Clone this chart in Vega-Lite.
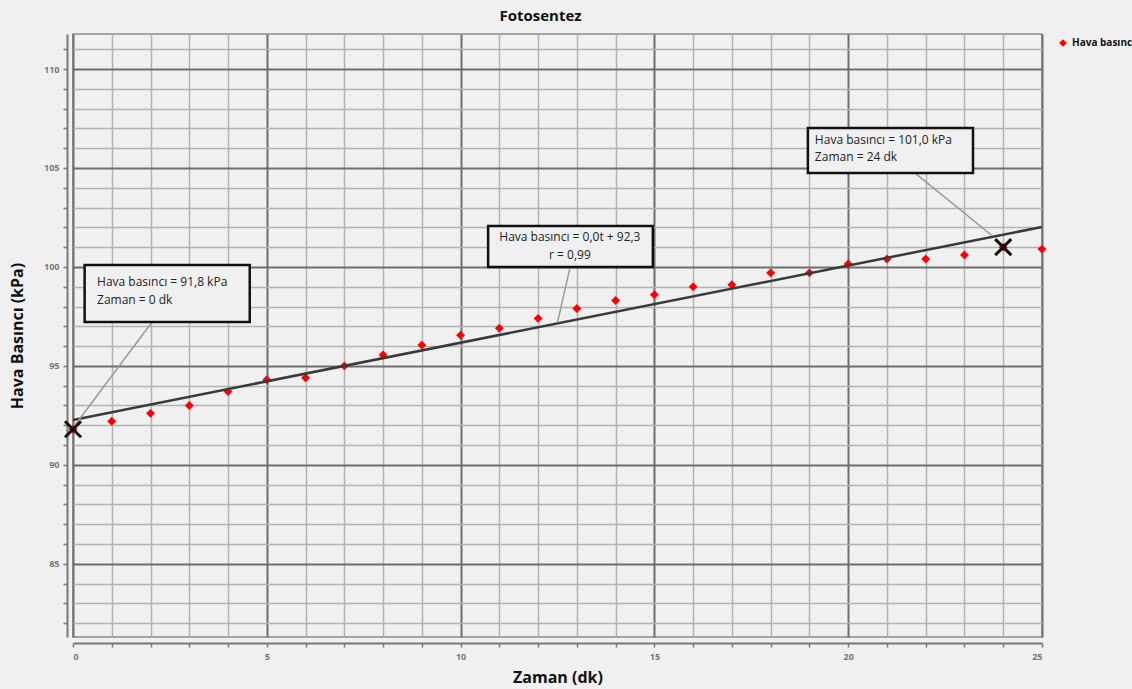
{
  "$schema": "https://vega.github.io/schema/vega-lite/v6.json",
  "autosize": {"type": "none"},
  "width": 969,
  "height": 603,
  "padding": {"left": 73, "top": 34, "right": 90, "bottom": 52},
  "background": "#f0f0f0",
  "title": {"text": "Fotosentez", "fontSize": 15, "fontWeight": "bold", "font": "Open Sans", "color": "#111", "offset": 10, "dx": -17},
  "config": {
    "view": {"fill": "#f0f0f0", "stroke": "#8a8a8a", "strokeWidth": 1.5},
    "font": "Open Sans"
  },
  "datasets": {
    "points": [
      {"t": 0, "p": 91.8, "s": "Hava basıncı"},
      {"t": 1, "p": 92.2, "s": "Hava basıncı"},
      {"t": 2, "p": 92.6, "s": "Hava basıncı"},
      {"t": 3, "p": 93.0, "s": "Hava basıncı"},
      {"t": 4, "p": 93.7, "s": "Hava basıncı"},
      {"t": 5, "p": 94.3, "s": "Hava basıncı"},
      {"t": 6, "p": 94.4, "s": "Hava basıncı"},
      {"t": 7, "p": 95.0, "s": "Hava basıncı"},
      {"t": 8, "p": 95.55, "s": "Hava basıncı"},
      {"t": 9, "p": 96.05, "s": "Hava basıncı"},
      {"t": 10, "p": 96.55, "s": "Hava basıncı"},
      {"t": 11, "p": 96.9, "s": "Hava basıncı"},
      {"t": 12, "p": 97.4, "s": "Hava basıncı"},
      {"t": 13, "p": 97.9, "s": "Hava basıncı"},
      {"t": 14, "p": 98.3, "s": "Hava basıncı"},
      {"t": 15, "p": 98.6, "s": "Hava basıncı"},
      {"t": 16, "p": 99.0, "s": "Hava basıncı"},
      {"t": 17, "p": 99.1, "s": "Hava basıncı"},
      {"t": 18, "p": 99.7, "s": "Hava basıncı"},
      {"t": 19, "p": 99.7, "s": "Hava basıncı"},
      {"t": 20, "p": 100.15, "s": "Hava basıncı"},
      {"t": 21, "p": 100.4, "s": "Hava basıncı"},
      {"t": 22, "p": 100.4, "s": "Hava basıncı"},
      {"t": 23, "p": 100.6, "s": "Hava basıncı"},
      {"t": 24, "p": 101.0, "s": "Hava basıncı"},
      {"t": 25, "p": 100.9, "s": "Hava basıncı"}
    ],
    "fit": [{"t": 0, "p": 92.27, "t2": 25, "p2": 102.02}],
    "leaders": [
      {"t": 2.04, "p": 97.22, "t2": 0.05, "p2": 92.0},
      {"t": 12.82, "p": 99.95, "t2": 12.5, "p2": 97.2},
      {"t": 21.72, "p": 104.75, "t2": 23.7, "p2": 101.6}
    ],
    "boxes": [
      {"t": 0.3, "t2": 4.56, "p": 100.1, "p2": 97.22},
      {"t": 10.71, "t2": 14.96, "p": 102.07, "p2": 100.0},
      {"t": 18.96, "t2": 23.22, "p": 107.02, "p2": 104.75}
    ],
    "labelsLeft": [
      {"t": 0.62, "p": 99.24, "txt": "Hava basıncı = 91,8 kPa"},
      {"t": 0.62, "p": 98.33, "txt": "Zaman = 0 dk"},
      {"t": 19.14, "p": 106.41, "txt": "Hava basıncı = 101,0 kPa"},
      {"t": 19.14, "p": 105.56, "txt": "Zaman = 24 dk"}
    ],
    "labelsCenter": [
      {"t": 12.82, "p": 101.52, "txt": "Hava basıncı = 0,0t + 92,3"},
      {"t": 12.82, "p": 100.62, "txt": "r = 0,99"}
    ],
    "marks": [{"t": 0, "p": 91.8}, {"t": 24, "p": 101.0}]
  },
  "layer": [
    {
      "data": {"name": "points"},
      "mark": {"type": "point", "shape": "diamond", "filled": true, "size": 80, "opacity": 1},
      "encoding": {
        "x": {
          "field": "t", "type": "quantitative", "title": "Zaman (dk)",
          "scale": {"domain": [0, 25], "nice": false, "zero": false},
          "axis": {
            "title": "Zaman (dk)", "titleFontSize": 16, "titleFontWeight": "bold", "titleColor": "#111", "titlePadding": 8,
            "values": [0,1,2,3,4,5,6,7,8,9,10,11,12,13,14,15,16,17,18,19,20,21,22,23,24,25],
            "tickCount": 200, "labelOverlap": false, "format": "d",
            "labelExpr": "datum.value % 5 === 0 ? datum.label : ''",
            "labelFontSize": 9, "labelFontWeight": "bold", "labelColor": "#777", "labelPadding": 5,
            "offset": 6, "domainColor": "#777", "domainWidth": 2, "tickColor": "#777", "tickSize": 4, "tickWidth": 1.5,
            "grid": true,
            "gridColor": {"condition": {"test": "datum.value % 5 === 0", "value": "#6e6e6e"}, "value": "#b2b2b2"},
            "gridWidth": {"condition": {"test": "datum.value % 5 === 0", "value": 2}, "value": 1.5}
          }
        },
        "y": {
          "field": "p", "type": "quantitative", "title": "Hava Basıncı (kPa)",
          "scale": {"domain": [81.3, 111.77], "nice": false, "zero": false},
          "axis": {
            "title": "Hava Basıncı (kPa)", "titleFontSize": 16, "titleFontWeight": "bold", "titleColor": "#111", "titlePadding": 18,
            "values": [82,83,84,85,86,87,88,89,90,91,92,93,94,95,96,97,98,99,100,101,102,103,104,105,106,107,108,109,110,111],
            "tickCount": 200, "labelOverlap": false, "format": "d",
            "labelExpr": "datum.value % 5 === 0 ? datum.label : ''",
            "labelFontSize": 9, "labelFontWeight": "bold", "labelColor": "#777", "labelPadding": 4,
            "offset": 6, "domainColor": "#777", "domainWidth": 2, "tickColor": "#777", "tickSize": 4, "tickWidth": 1.5,
            "grid": true,
            "gridColor": {"condition": {"test": "datum.value % 5 === 0", "value": "#6e6e6e"}, "value": "#b2b2b2"},
            "gridWidth": {"condition": {"test": "datum.value % 5 === 0", "value": 2}, "value": 1.5}
          }
        },
        "color": {
          "field": "s", "type": "nominal",
          "scale": {"range": ["#ff0000"]},
          "legend": {
            "title": null, "orient": "none", "legendX": 985, "legendY": 4,
            "symbolType": "diamond", "symbolSize": 60, "labelFontSize": 10, "labelFontWeight": "bold",
            "labelColor": "#111", "labelLimit": 300
          }
        }
      }
    },
    {
      "data": {"name": "fit"},
      "mark": {"type": "rule", "color": "#3a3a3a", "strokeWidth": 2.5},
      "encoding": {
        "x": {"field": "t", "type": "quantitative", "title": "Zaman (dk)"},
        "y": {"field": "p", "type": "quantitative", "title": "Hava Basıncı (kPa)"},
        "x2": {"field": "t2"},
        "y2": {"field": "p2"}
      }
    },
    {
      "data": {"name": "leaders"},
      "mark": {"type": "rule", "color": "#9a9a9a", "strokeWidth": 1.5},
      "encoding": {
        "x": {"field": "t", "type": "quantitative", "title": "Zaman (dk)"},
        "y": {"field": "p", "type": "quantitative", "title": "Hava Basıncı (kPa)"},
        "x2": {"field": "t2"},
        "y2": {"field": "p2"}
      }
    },
    {
      "data": {"name": "boxes"},
      "mark": {"type": "rect", "fill": "#f0f0f0", "stroke": "#111", "strokeWidth": 2.5},
      "encoding": {
        "x": {"field": "t", "type": "quantitative", "title": "Zaman (dk)"},
        "y": {"field": "p", "type": "quantitative", "title": "Hava Basıncı (kPa)"},
        "x2": {"field": "t2"},
        "y2": {"field": "p2"}
      }
    },
    {
      "data": {"name": "labelsLeft"},
      "mark": {"type": "text", "fontSize": 12, "color": "#222", "baseline": "middle", "align": "left"},
      "encoding": {
        "x": {"field": "t", "type": "quantitative", "title": "Zaman (dk)"},
        "y": {"field": "p", "type": "quantitative", "title": "Hava Basıncı (kPa)"},
        "text": {"field": "txt"}
      }
    },
    {
      "data": {"name": "labelsCenter"},
      "mark": {"type": "text", "fontSize": 12, "color": "#222", "baseline": "middle", "align": "center"},
      "encoding": {
        "x": {"field": "t", "type": "quantitative", "title": "Zaman (dk)"},
        "y": {"field": "p", "type": "quantitative", "title": "Hava Basıncı (kPa)"},
        "text": {"field": "txt"}
      }
    },
    {
      "data": {"name": "marks"},
      "mark": {"type": "point", "shape": "M-1,-1L1,1M-1,1L1,-1", "filled": false, "stroke": "#111", "strokeWidth": 3, "size": 256, "opacity": 1},
      "encoding": {
        "x": {"field": "t", "type": "quantitative", "title": "Zaman (dk)"},
        "y": {"field": "p", "type": "quantitative", "title": "Hava Basıncı (kPa)"}
      }
    }
  ]
}
